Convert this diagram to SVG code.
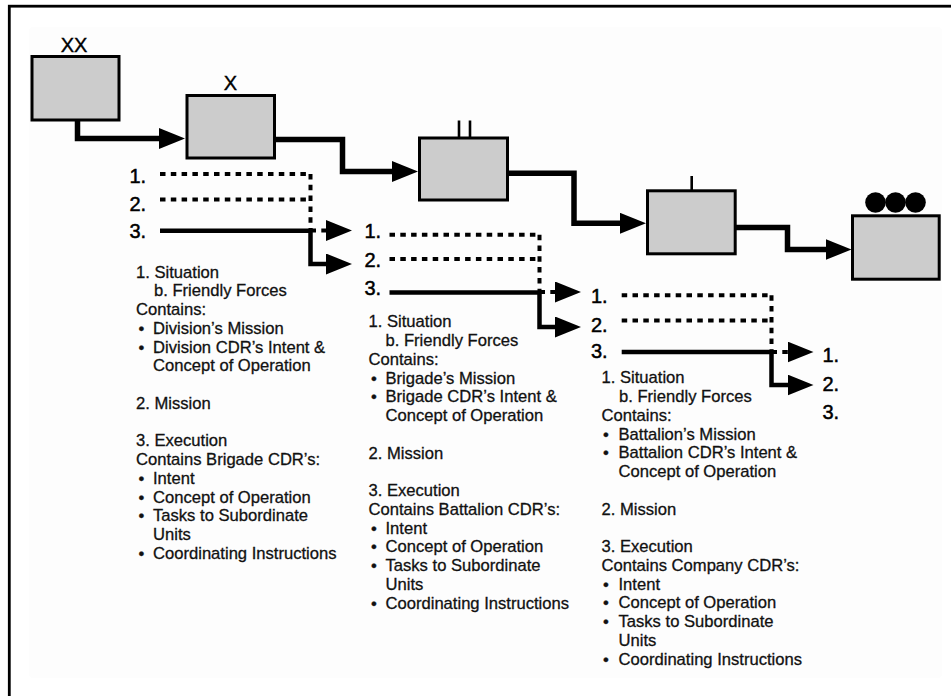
<svg xmlns="http://www.w3.org/2000/svg" width="951" height="696" viewBox="0 0 951 696">
<style>
.box{fill:#cccccc;stroke:#000;stroke-width:3}
.sym{stroke:#000;stroke-width:2.6;fill:none}
.main{fill:none;stroke:#000;stroke-width:5.5;stroke-linejoin:miter}
.solid{fill:none;stroke:#000;stroke-width:4.5;stroke-linejoin:miter}
.dot{fill:none;stroke:#000;stroke-width:4;stroke-dasharray:5.5 5.3}
.lbl{font-family:"Liberation Sans",Arial,sans-serif;font-size:20px;fill:#000;stroke:#000;stroke-width:0.4}
.num{font-family:"Liberation Sans",Arial,sans-serif;font-size:20px;fill:#000;stroke:#000;stroke-width:0.5}
.body{font-family:"Liberation Sans",Arial,sans-serif;font-size:16.6px;fill:#111;stroke:#111;stroke-width:0.3}
</style>
<defs>
<marker id="ah" viewBox="0 0 26 21" refX="11" refY="10.5" markerWidth="26" markerHeight="21" markerUnits="userSpaceOnUse" orient="auto">
<path d="M0 0 L26 10.5 L0 21 Z" fill="#000"/>
</marker>
</defs>
<rect x="0" y="0" width="951" height="696" fill="#fff"/>
<rect x="29" y="27" width="913" height="651" rx="4" fill="#fdfdfd"/>
<rect x="9.3" y="6.2" width="960" height="720" fill="none" stroke="#000" stroke-width="2.8"/>

<g id="node-division">
<rect class="box" x="32" y="56.5" width="87" height="63.5"/>
<text class="lbl" x="74" y="52" text-anchor="middle">XX</text>
</g>
<g id="node-brigade">
<rect class="box" x="187" y="95.5" width="87.5" height="62.5"/>
<text class="lbl" x="230.5" y="90" text-anchor="middle">X</text>
</g>
<g id="node-battalion">
<rect class="box" x="419.5" y="138" width="88" height="62"/>
<line class="sym" x1="459" y1="120.5" x2="459" y2="137"/>
<line class="sym" x1="470" y1="120.5" x2="470" y2="137"/>
</g>
<g id="node-company">
<rect class="box" x="647.5" y="190.8" width="87.7" height="63"/>
<line class="sym" x1="691.7" y1="176" x2="691.7" y2="190"/>
</g>
<g id="node-platoon">
<rect class="box" x="852.5" y="215.8" width="86.7" height="63.4"/>
<circle cx="875.5" cy="202.5" r="10.3" fill="#000"/>
<circle cx="895.5" cy="202.5" r="10.3" fill="#000"/>
<circle cx="915.5" cy="202.5" r="10.3" fill="#000"/>
</g>

<g id="connectors">
<path class="main" d="M77.5 120 V138.5 H170" marker-end="url(#ah)"/>
<path class="main" d="M274.5 139.5 H342.5 V171.5 H403" marker-end="url(#ah)"/>
<path class="main" d="M507.5 173.3 H574 V223.3 H631" marker-end="url(#ah)"/>
<path class="main" d="M735.2 227.5 H787.5 V249.5 H836.5" marker-end="url(#ah)"/>

<path class="dot" d="M160 174 H310.5"/>
<path class="dot" d="M160 199.5 H310.5"/>
<path class="dot" d="M310.5 174 V230.5"/>
<path class="dot" d="M310.5 230.5 H337" marker-end="url(#ah)"/>
<path class="solid" d="M160 230.7 H310.5 V264 H337" marker-end="url(#ah)"/>

<path class="dot" d="M389.5 234.7 H539.5"/>
<path class="dot" d="M389.5 259 H539.5"/>
<path class="dot" d="M539.5 234.7 V292"/>
<path class="dot" d="M539.5 292 H566" marker-end="url(#ah)"/>
<path class="solid" d="M389.5 292.5 H539.5 V327 H566" marker-end="url(#ah)"/>

<path class="dot" d="M621.7 295.3 H771.5"/>
<path class="dot" d="M621.7 320.5 H771.5"/>
<path class="dot" d="M771.5 295.3 V352"/>
<path class="dot" d="M771.5 352 H798.5" marker-end="url(#ah)"/>
<path class="solid" d="M621.7 352 H771.5 V385 H798.5" marker-end="url(#ah)"/>
</g>

<g id="labels-division">
<text class="num" x="129.5" y="183.3">1.</text>
<text class="num" x="129.5" y="210.7">2.</text>
<text class="num" x="129.5" y="238.3">3.</text>
<text class="body" x="136" y="277.5">1. Situation</text>
<text class="body" x="154" y="296.25">b. Friendly Forces</text>
<text class="body" x="136" y="315">Contains:</text>
<text class="body" x="138.5" y="333.75">•</text><text class="body" x="153" y="333.75">Division’s Mission</text>
<text class="body" x="138.5" y="352.5">•</text><text class="body" x="153" y="352.5">Division CDR’s Intent &amp;</text>
<text class="body" x="153" y="371.25">Concept of Operation</text>
<text class="body" x="136" y="408.75">2. Mission</text>
<text class="body" x="136" y="446.25">3. Execution</text>
<text class="body" x="136" y="465">Contains Brigade CDR’s:</text>
<text class="body" x="138.5" y="483.75">•</text><text class="body" x="153" y="483.75">Intent</text>
<text class="body" x="138.5" y="502.5">•</text><text class="body" x="153" y="502.5">Concept of Operation</text>
<text class="body" x="138.5" y="521.25">•</text><text class="body" x="153" y="521.25">Tasks to Subordinate</text>
<text class="body" x="153" y="540">Units</text>
<text class="body" x="138.5" y="558.75">•</text><text class="body" x="153" y="558.75">Coordinating Instructions</text>
</g>

<g id="labels-brigade">
<text class="num" x="364.5" y="238.3">1.</text>
<text class="num" x="364.5" y="266.7">2.</text>
<text class="num" x="364.5" y="295">3.</text>
<text class="body" x="368.5" y="327.3">1. Situation</text>
<text class="body" x="385.5" y="346.05">b. Friendly Forces</text>
<text class="body" x="368.5" y="364.8">Contains:</text>
<text class="body" x="371" y="383.55">•</text><text class="body" x="385.5" y="383.55">Brigade’s Mission</text>
<text class="body" x="371" y="402.3">•</text><text class="body" x="385.5" y="402.3">Brigade CDR’s Intent &amp;</text>
<text class="body" x="385.5" y="421.05">Concept of Operation</text>
<text class="body" x="368.5" y="458.55">2. Mission</text>
<text class="body" x="368.5" y="496.05">3. Execution</text>
<text class="body" x="368.5" y="514.8">Contains Battalion CDR’s:</text>
<text class="body" x="371" y="533.55">•</text><text class="body" x="385.5" y="533.55">Intent</text>
<text class="body" x="371" y="552.3">•</text><text class="body" x="385.5" y="552.3">Concept of Operation</text>
<text class="body" x="371" y="571.05">•</text><text class="body" x="385.5" y="571.05">Tasks to Subordinate</text>
<text class="body" x="385.5" y="589.8">Units</text>
<text class="body" x="371" y="608.55">•</text><text class="body" x="385.5" y="608.55">Coordinating Instructions</text>
</g>

<g id="labels-battalion">
<text class="num" x="591" y="303.3">1.</text>
<text class="num" x="591" y="331.7">2.</text>
<text class="num" x="591" y="358.3">3.</text>
<text class="body" x="601.5" y="383.3">1. Situation</text>
<text class="body" x="619" y="402.05">b. Friendly Forces</text>
<text class="body" x="601.5" y="420.8">Contains:</text>
<text class="body" x="603" y="439.55">•</text><text class="body" x="618.5" y="439.55">Battalion’s Mission</text>
<text class="body" x="603" y="458.3">•</text><text class="body" x="618.5" y="458.3">Battalion CDR’s Intent &amp;</text>
<text class="body" x="618.5" y="477.05">Concept of Operation</text>
<text class="body" x="601.5" y="514.55">2. Mission</text>
<text class="body" x="601.5" y="552.05">3. Execution</text>
<text class="body" x="601.5" y="570.8">Contains Company CDR’s:</text>
<text class="body" x="603" y="589.55">•</text><text class="body" x="618.5" y="589.55">Intent</text>
<text class="body" x="603" y="608.3">•</text><text class="body" x="618.5" y="608.3">Concept of Operation</text>
<text class="body" x="603" y="627.05">•</text><text class="body" x="618.5" y="627.05">Tasks to Subordinate</text>
<text class="body" x="618.5" y="645.8">Units</text>
<text class="body" x="603" y="664.55">•</text><text class="body" x="618.5" y="664.55">Coordinating Instructions</text>
</g>

<g id="labels-company">
<text class="num" x="822.5" y="361.7">1.</text>
<text class="num" x="822.5" y="390.5">2.</text>
<text class="num" x="822.5" y="419.3">3.</text>
</g>
</svg>
